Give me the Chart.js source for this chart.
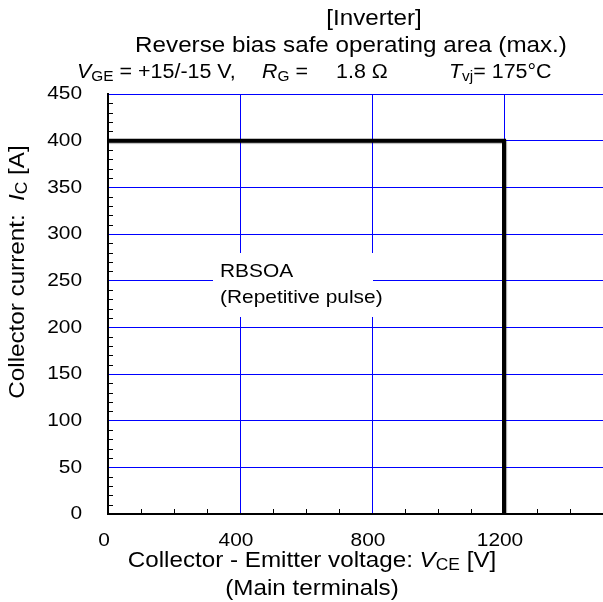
<!DOCTYPE html>
<html>
<head>
<meta charset="utf-8">
<script src="https://cdn.jsdelivr.net/npm/chart.js@4/dist/chart.umd.min.js"></script>
<style>
  html, body { margin: 0; padding: 0; background: #fff; }
  #wrap { width: 603px; height: 602px; position: relative; }
</style>
</head>
<body>
<div id="wrap"><canvas id="rbsoa"></canvas></div>
<script>
// RBSOA boundary (max.)
const voltage = [0, 1200, 1200];
const current = [400, 400, 0];

// axis ticks
const xTicks = [0, 400, 800, 1200];
const yTicks = [0, 50, 100, 150, 200, 250, 300, 350, 400, 450];
const xMinor = [100, 200, 300, 500, 600, 700, 900, 1000, 1100, 1300, 1400];
const yMinor = [];
for (let v = 10; v < 450; v += 10) if (v % 50) yMinor.push(v);

const FONT = '"Liberation Sans", Arial, sans-serif';
const SX = 1.1; // text is a little wide

// one run of text pieces (sub = subscript, it = italic), horizontally stretched
function runWidth(ctx, runs, size) {
  let w = 0;
  runs.forEach(r => {
    ctx.font = (r.it ? 'italic ' : '') + (r.sub ? size * 0.72 : size) + 'px ' + FONT;
    w += ctx.measureText(r.t).width;
  });
  return w * SX;
}
function drawRuns(ctx, x, y, runs, size, align) {
  const w = runWidth(ctx, runs, size);
  if (align === 'center') x -= w / 2;
  else if (align === 'right') x -= w;
  ctx.save();
  ctx.translate(x, y);
  ctx.scale(SX, 1);
  ctx.textAlign = 'left';
  ctx.textBaseline = 'middle';
  let cx = 0;
  runs.forEach(r => {
    const fs = r.sub ? size * 0.72 : size;
    ctx.font = (r.it ? 'italic ' : '') + fs + 'px ' + FONT;
    ctx.fillText(r.t, cx, r.sub ? size * 0.22 : 0);
    cx += ctx.measureText(r.t).width;
  });
  ctx.restore();
}
const txt = t => [{ t }];

const textPlugin = {
  id: 'texts',
  beforeDatasetsDraw(chart) {
    const ctx = chart.ctx;
    ctx.save();
    // label box over the grid
    ctx.fillStyle = '#fff';
    ctx.fillRect(213, 253, 160, 64);
    ctx.fillStyle = '#000';
    drawRuns(ctx, 220, 272, txt('RBSOA'), 19);
    drawRuns(ctx, 220, 298, txt('(Repetitive pulse)'), 19);
    ctx.restore();
  },
  beforeDatasetDraw(chart) {
    // soft grey edge along the boundary line
    const ctx = chart.ctx;
    ctx.save();
    ctx.shadowColor = 'rgba(0,0,0,0.35)';
    ctx.shadowOffsetX = 1;
    ctx.shadowOffsetY = 1;
    ctx.shadowBlur = 1;
  },
  afterDatasetDraw(chart) {
    chart.ctx.restore();
  },
  afterDraw(chart) {
    const ctx = chart.ctx;
    const xs = chart.scales.x, ys = chart.scales.y;
    const a = chart.chartArea;
    ctx.save();
    // inward minor ticks
    ctx.strokeStyle = '#000';
    ctx.lineWidth = 1;
    ctx.beginPath();
    xMinor.forEach(v => {
      const px = Math.round(xs.getPixelForValue(v)) + 0.5;
      ctx.moveTo(px, a.bottom);
      ctx.lineTo(px, a.bottom - 5);
    });
    yMinor.forEach(v => {
      const py = Math.round(ys.getPixelForValue(v)) + 0.5;
      ctx.moveTo(a.left, py);
      ctx.lineTo(a.left + 5, py);
    });
    ctx.stroke();

    ctx.fillStyle = '#000';
    // tick labels
    xTicks.forEach(v => drawRuns(ctx, xs.getPixelForValue(v) - 4, 541, txt(String(v)), 19, 'center'));
    yTicks.forEach(v => drawRuns(ctx, 82, ys.getPixelForValue(v), txt(String(v)), 19, 'right'));

    // titles
    drawRuns(ctx, 374, 19, txt('[Inverter]'), 22, 'center');
    drawRuns(ctx, 351, 46, txt('Reverse bias safe operating area (max.)'), 22, 'center');
    drawRuns(ctx, 77, 73, [{ t: 'V', it: true }, { t: 'GE', sub: true }, { t: ' = +15/-15 V,' }], 19.5);
    drawRuns(ctx, 262, 73, [{ t: 'R', it: true }, { t: 'G', sub: true }, { t: ' =' }], 19.5);
    drawRuns(ctx, 336, 73, txt('1.8 Ω'), 19.5);
    drawRuns(ctx, 449, 73, [{ t: 'T', it: true }, { t: 'vj', sub: true }, { t: '= 175°C' }], 19.5);

    // x axis title
    drawRuns(ctx, 312, 561, [{ t: 'Collector - Emitter voltage: ' }, { t: 'V', it: true }, { t: 'CE', sub: true }, { t: ' [V]' }], 22, 'center');
    drawRuns(ctx, 312, 589, txt('(Main terminals)'), 22, 'center');

    // y axis title
    ctx.translate(18, 272);
    ctx.rotate(-Math.PI / 2);
    drawRuns(ctx, 0, 0, [{ t: 'Collector current:  ' }, { t: 'I', it: true }, { t: 'C', sub: true }, { t: ' [A]' }], 22, 'center');
    ctx.restore();
  }
};

new Chart(document.getElementById('rbsoa'), {
  type: 'scatter',
  data: {
    datasets: [{
      data: voltage.map((v, i) => ({ x: v, y: current[i] })),
      showLine: true,
      borderColor: '#000',
      borderWidth: 4,
      pointRadius: 0,
      borderJoinStyle: 'miter',
      fill: false
    }]
  },
  options: {
    responsive: true,
    maintainAspectRatio: false,
    animation: false,
    layout: { padding: { top: 94, right: 0, left: 0, bottom: 0 } },
    plugins: { legend: { display: false }, tooltip: { enabled: false } },
    scales: {
      x: {
        type: 'linear',
        min: 0,
        max: 1500,
        afterBuildTicks: s => { s.ticks = xTicks.map(v => ({ value: v })); },
        afterFit: s => { s.height = 88; },
        grid: { color: '#0000ff', lineWidth: 1, drawTicks: false },
        border: { color: '#000', width: 2 },
        ticks: { display: false }
      },
      y: {
        type: 'linear',
        min: 0,
        max: 450,
        afterBuildTicks: s => { s.ticks = yTicks.map(v => ({ value: v })); },
        afterFit: s => { s.width = 108; },
        grid: { color: '#0000ff', lineWidth: 1, drawTicks: false },
        border: { color: '#000', width: 2 },
        ticks: { display: false }
      }
    }
  },
  plugins: [textPlugin]
});
</script>
</body>
</html>
